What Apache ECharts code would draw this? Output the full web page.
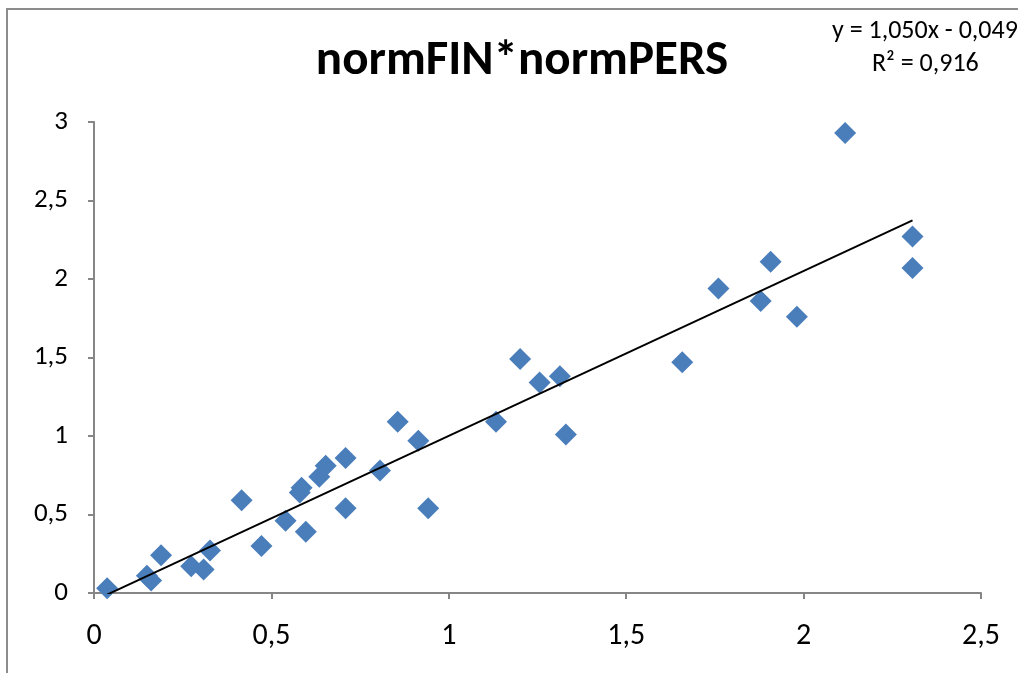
<!DOCTYPE html>
<html>
<head>
<meta charset="utf-8">
<script src="https://cdn.jsdelivr.net/npm/echarts@6/dist/echarts.min.js"></script>
<style>
html,body{margin:0;padding:0;background:#fff;}
#chart{width:1018px;height:673px;}
</style>
</head>
<body>
<div id="chart"></div>
<script>
// Data
const xValues = [0.037, 0.149, 0.161, 0.189, 0.274, 0.309, 0.327, 0.416, 0.472, 0.540, 0.580, 0.585, 0.597, 0.635, 0.653, 0.709, 0.709, 0.806, 0.856, 0.914, 0.942, 1.133, 1.201, 1.256, 1.313, 1.330, 1.658, 1.760, 1.879, 1.907, 1.981, 2.117, 2.307, 2.307];
const yValues = [0.03, 0.11, 0.08, 0.24, 0.17, 0.15, 0.27, 0.59, 0.30, 0.46, 0.64, 0.67, 0.39, 0.74, 0.81, 0.86, 0.54, 0.78, 1.09, 0.97, 0.54, 1.09, 1.49, 1.34, 1.38, 1.01, 1.47, 1.94, 1.86, 2.11, 1.76, 2.93, 2.27, 2.07];
const trendSlope = 1.050;
const trendIntercept = -0.049;
const equationText = 'y = 1,050x - 0,049';
const r2Text = 'R² = 0,916';
const titleText = 'normFIN*normPERS';
const xTicks = [0, 0.5, 1, 1.5, 2, 2.5];
const yTicks = [0, 0.5, 1, 1.5, 2, 2.5, 3];

const points = xValues.map((x, i) => [x, yValues[i]]);
const xMinData = Math.min(...xValues);
const xMaxData = Math.max(...xValues);
const trend = [xMinData, xMaxData].map(x => [x, trendSlope * x + trendIntercept]);

const FONT = 'Carlito, "Liberation Sans Narrow", "Noto Sans", sans-serif';
const fmt = v => String(v).replace('.', ',');

const chart = echarts.init(document.getElementById('chart'), null, {renderer: 'canvas'});
chart.setOption({
  animation: false,
  backgroundColor: '#ffffff',
  title: {
    text: titleText,
    left: 517,
    top: 32,
    textAlign: 'center',
    textStyle: {fontFamily: FONT, fontWeight: 'bold', fontSize: 49, color: '#000'}
  },
  grid: {left: 94, right: 37, top: 122, bottom: 80, containLabel: false},
  xAxis: {
    type: 'value',
    min: xTicks[0], max: xTicks[xTicks.length - 1], interval: 0.5,
    splitLine: {show: false},
    axisLine: {show: true, onZero: false, lineStyle: {color: '#868686', width: 2}},
    axisTick: {show: true, length: 6, lineStyle: {color: '#868686', width: 2}},
    axisLabel: {formatter: fmt, fontFamily: FONT, fontSize: 30, color: '#000', margin: 28}
  },
  yAxis: {
    type: 'value',
    min: yTicks[0], max: yTicks[yTicks.length - 1], interval: 0.5,
    splitLine: {show: false},
    axisLine: {show: true, onZero: false, lineStyle: {color: '#868686', width: 2}},
    axisTick: {show: true, length: 6, lineStyle: {color: '#868686', width: 2}},
    axisLabel: {formatter: fmt, fontFamily: FONT, fontSize: 27, color: '#000', margin: 26}
  },
  series: [
    {
      type: 'scatter',
      data: points,
      symbol: 'diamond',
      symbolSize: 22,
      itemStyle: {color: '#4a7ebb', opacity: 1},
      z: 2
    },
    {
      type: 'line',
      data: trend,
      symbol: 'none',
      lineStyle: {color: '#000', width: 2},
      clip: true,
      z: 3
    }
  ],
  graphic: [
    {type: 'line', shape: {x1: 7, y1: 9, x2: 7, y2: 673}, style: {stroke: '#8c8c8c', lineWidth: 2}},
    {type: 'line', shape: {x1: 6, y1: 9, x2: 1018, y2: 9}, style: {stroke: '#8c8c8c', lineWidth: 2}},
    {type: 'text', left: 832, top: 18, style: {text: equationText, font: '26px ' + FONT, fill: '#000'}},
    {type: 'text', left: 872, top: 51, style: {text: r2Text, font: '26px ' + FONT, fill: '#000'}}
  ]
});
</script>
</body>
</html>
